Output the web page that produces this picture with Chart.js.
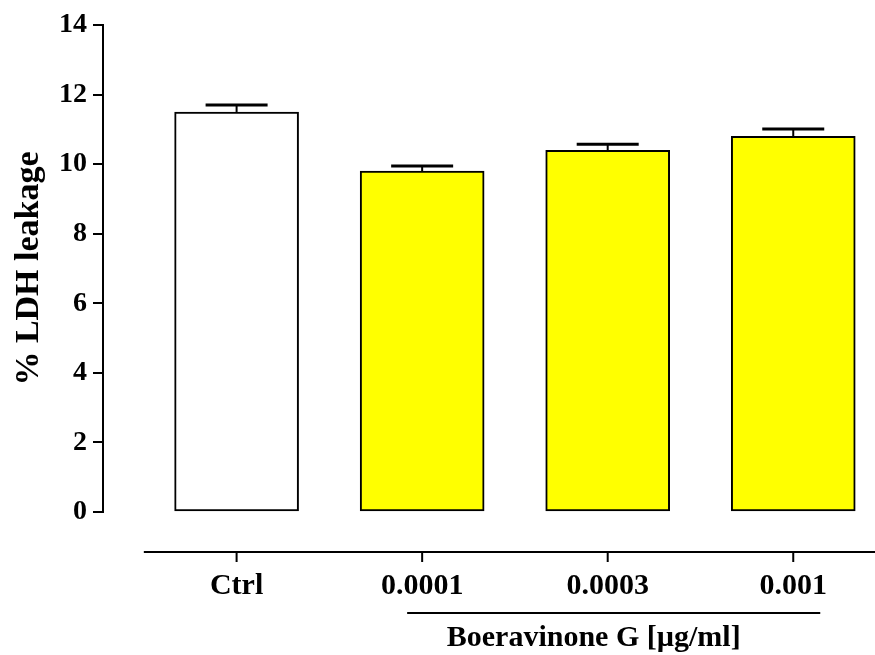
<!DOCTYPE html>
<html>
<head>
<meta charset="utf-8">
<title>% LDH leakage</title>
<script src="https://cdn.jsdelivr.net/npm/chart.js@4.4.1/dist/chart.umd.min.js"></script>
<style>
  html, body { margin: 0; padding: 0; background: #ffffff; }
  #wrap { width: 875px; height: 655px; }
</style>
</head>
<body>
<div id="wrap"><canvas id="ldhChart"></canvas></div>
<script>
// data
const categories = ["Ctrl", "0.0001", "0.0003", "0.001"];
const ldhMean = [11.5, 9.8, 10.4, 10.8];
const ldhSem = [0.2, 0.15, 0.17, 0.21];
const barColors = ["#ffffff", "#ffff00", "#ffff00", "#ffff00"];
const yTicks = [0, 2, 4, 6, 8, 10, 12, 14];
const groupLabel = "Boeravinone G [µg/ml]";

const SERIF = '"Liberation Serif", "Times New Roman", serif';

// SEM whiskers on top of each bar
const errorBars = {
  id: "errorBars",
  afterDatasetsDraw(chart) {
    const { ctx } = chart;
    const x = chart.scales.x;
    const y = chart.scales.y;
    ctx.save();
    ctx.strokeStyle = "#000";
    ldhMean.forEach((m, i) => {
      const px = x.getPixelForValue(i);
      const top = y.getPixelForValue(m);
      const end = y.getPixelForValue(m + ldhSem[i]);
      ctx.lineWidth = 2;
      ctx.beginPath();
      ctx.moveTo(px, top);
      ctx.lineTo(px, end);
      ctx.stroke();
      ctx.lineWidth = 3;
      ctx.beginPath();
      ctx.moveTo(px - 31, end);
      ctx.lineTo(px + 31, end);
      ctx.stroke();
    });
    ctx.restore();
  }
};

// detached x baseline with tick marks, plus the bracket under the treated groups
const groupAxis = {
  id: "groupAxis",
  afterDraw(chart) {
    const { ctx, chartArea } = chart;
    const x = chart.scales.x;
    const base = chartArea.bottom + 40;
    ctx.save();
    ctx.strokeStyle = "#000";
    ctx.lineWidth = 2;
    ctx.beginPath();
    ctx.moveTo(x.getPixelForValue(-0.5), base);
    ctx.lineTo(chart.width, base);
    ctx.stroke();
    categories.forEach((c, i) => {
      const px = x.getPixelForValue(i);
      ctx.beginPath();
      ctx.moveTo(px, base);
      ctx.lineTo(px, base + 10);
      ctx.stroke();
    });

    const first = x.getPixelForValue(1);
    const last = x.getPixelForValue(categories.length - 1);
    ctx.beginPath();
    ctx.moveTo(first - 15, chartArea.bottom + 101);
    ctx.lineTo(last + 27, chartArea.bottom + 101);
    ctx.stroke();

    ctx.fillStyle = "#000";
    ctx.font = "bold 30px " + SERIF;
    ctx.textAlign = "center";
    ctx.textBaseline = "middle";
    ctx.fillText(groupLabel, (first + last) / 2 - 14, chartArea.bottom + 126);
    ctx.restore();
  }
};

new Chart(document.getElementById("ldhChart"), {
  type: "bar",
  data: {
    datasets: [
      {
        data: ldhMean.map((v, i) => ({ x: i, y: v })),
        backgroundColor: barColors,
        borderColor: "#000",
        borderWidth: 2,
        borderSkipped: false,
        barThickness: 124,
      },
    ],
  },
  options: {
    responsive: true,
    maintainAspectRatio: false,
    animation: false,
    layout: { padding: { top: 25, right: 0, left: 0, bottom: 0 } },
    plugins: {
      legend: { display: false },
      tooltip: { enabled: false },
    },
    scales: {
      x: {
        type: "linear",
        offset: false,
        min: -0.72,
        max: 3.39,
        grid: { display: false },
        border: { display: false },
        afterBuildTicks: (scale) => {
          scale.ticks = categories.map((c, i) => ({ value: i }));
        },
        afterFit: (scale) => {
          scale.height = 143;
        },
        ticks: {
          autoSkip: false,
          maxRotation: 0,
          padding: 48,
          color: "#000",
          font: { family: SERIF, size: 30, weight: "bold" },
          callback: (v) => categories[v],
        },
      },
      y: {
        min: 0,
        max: 14,
        afterBuildTicks: (scale) => {
          scale.ticks = yTicks.map((v) => ({ value: v }));
        },
        afterFit: (scale) => {
          scale.width = 103;
        },
        grid: {
          drawOnChartArea: false,
          drawTicks: true,
          tickLength: 10,
          color: "#000",
          lineWidth: 2,
        },
        border: { display: true, color: "#000", width: 2 },
        ticks: {
          padding: 6,
          color: "#000",
          font: { family: SERIF, size: 28, weight: "bold" },
        },
        title: {
          display: true,
          text: "% LDH leakage",
          color: "#000",
          padding: { top: 9, bottom: 0 },
          font: { family: SERIF, size: 34, weight: "bold" },
        },
      },
    },
  },
  plugins: [errorBars, groupAxis],
});
</script>
</body>
</html>
